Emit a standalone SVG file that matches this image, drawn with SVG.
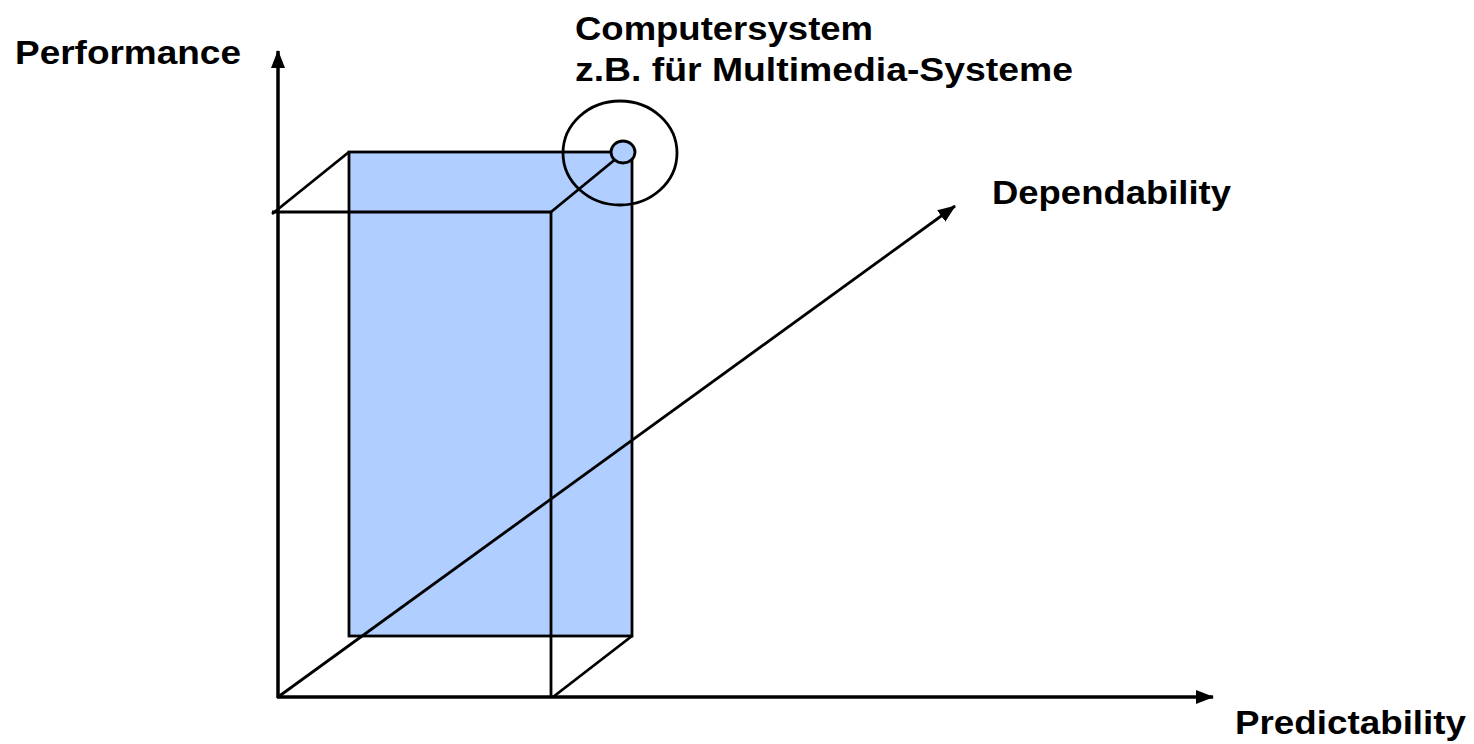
<svg xmlns="http://www.w3.org/2000/svg" width="1474" height="744" viewBox="0 0 1474 744">
<style>
.t{font-family:"Liberation Sans",Arial,sans-serif;font-weight:bold;font-size:33px;fill:#000}
.ln{stroke:#000;stroke-width:2.8;fill:none}
.ax{stroke:#000;stroke-width:3.5;fill:none}
</style>
<defs>
<marker id="ah" markerWidth="18" markerHeight="14" refX="17" refY="7" orient="auto" markerUnits="userSpaceOnUse">
<path d="M0,0 L18,7 L0,14 Z" fill="#000"/>
</marker>
</defs>
<rect width="1474" height="744" fill="#fff"/>
<g id="back-face">
<rect x="349" y="152" width="283" height="484" fill="#B0CEFF" stroke="#000" stroke-width="2.8"/>
</g>
<g id="front-box">
<line class="ln" x1="272" y1="212" x2="551" y2="212"/>
<line class="ln" x1="551" y1="212" x2="551" y2="697"/>
<line class="ln" x1="272" y1="214" x2="349" y2="152"/>
<line class="ln" x1="551" y1="212" x2="623" y2="153"/>
<line class="ln" x1="553" y1="697" x2="632" y2="636"/>
</g>
<g id="connectors">
<line class="ax" x1="278" y1="698" x2="278" y2="51" marker-end="url(#ah)"/>
<line class="ax" x1="277" y1="697" x2="1213" y2="697" marker-end="url(#ah)"/>
<line class="ln" x1="278" y1="697" x2="955" y2="206" marker-end="url(#ah)"/>
</g>
<g id="computersystem-marker">
<ellipse cx="620" cy="153" rx="57" ry="52" fill="none" stroke="#000" stroke-width="2.8"/>
<ellipse cx="623" cy="152" rx="12" ry="11" fill="#B0CEFF" stroke="#000" stroke-width="2.8"/>
</g>
<g id="labels">
<text class="t" x="15" y="64" textLength="226" lengthAdjust="spacingAndGlyphs">Performance</text>
<text class="t" x="575" y="40" textLength="298" lengthAdjust="spacingAndGlyphs">Computersystem</text>
<text class="t" x="575" y="81" textLength="498" lengthAdjust="spacingAndGlyphs">z.B. für Multimedia-Systeme</text>
<text class="t" x="992" y="204" textLength="239" lengthAdjust="spacingAndGlyphs">Dependability</text>
<text class="t" x="1235" y="734" textLength="231" lengthAdjust="spacingAndGlyphs">Predictability</text>
</g>
</svg>
